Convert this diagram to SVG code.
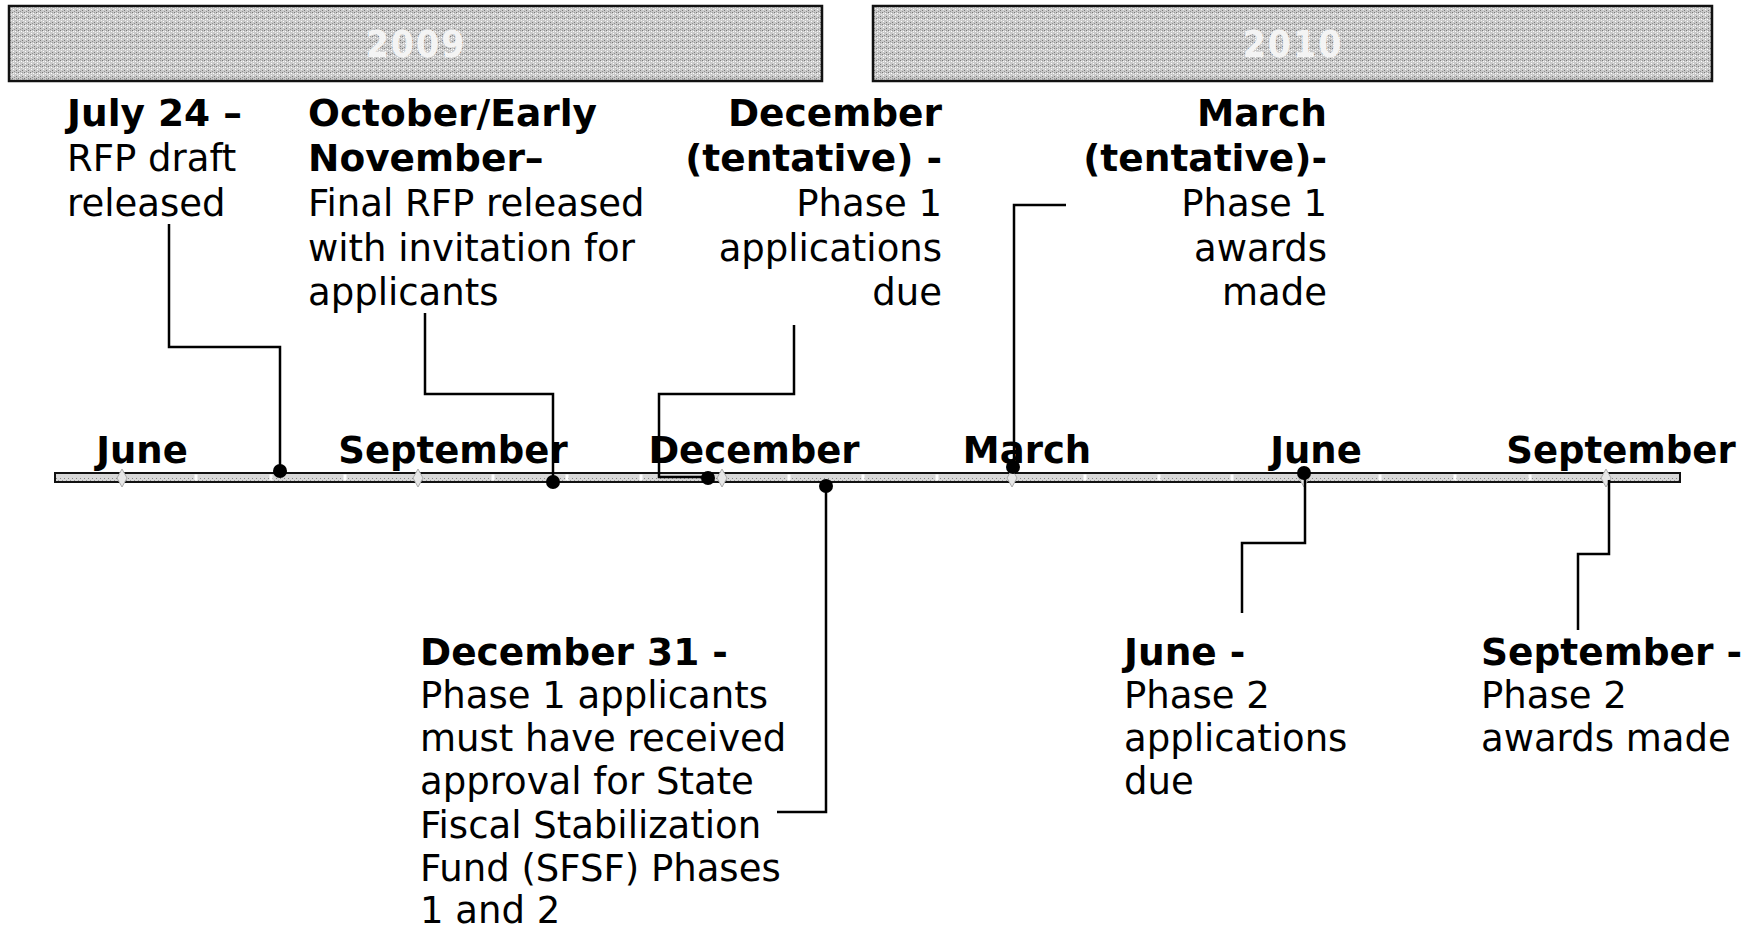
<svg xmlns="http://www.w3.org/2000/svg" width="1755" height="933" viewBox="0 0 1755 933">
<style>
.t{font-family:"DejaVu Sans","Liberation Sans",sans-serif;font-size:37px;fill:#000}
.b{font-weight:bold;font-size:37.5px}
.m{font-family:"DejaVu Sans","Liberation Sans",sans-serif;font-size:37px;font-weight:bold;fill:#000;text-anchor:middle}
.r{text-anchor:end}
.yr{font-family:"DejaVu Sans Condensed","DejaVu Sans","Liberation Sans",sans-serif;font-size:37px;font-weight:bold;fill:#f4f4f4;letter-spacing:2px;text-anchor:middle}
.hdr{fill:url(#dither);stroke:#111;stroke-width:2.5}
.con{fill:none;stroke:#000;stroke-width:2.5}
.dot{fill:#000}
.mk{fill:#e6e6e6;stroke:#aaa;stroke-width:1}
</style>
<defs>
<pattern id="dither" width="6" height="6" patternUnits="userSpaceOnUse">
<rect width="6" height="6" fill="#c9c9c9"/>
<rect x="0" y="0" width="1" height="1" fill="#7a7a7a"/>
<rect x="3" y="1" width="1" height="1" fill="#fff"/>
<rect x="1" y="3" width="1" height="1" fill="#fff"/>
<rect x="4" y="4" width="1" height="1" fill="#7a7a7a"/>
<rect x="2" y="5" width="1" height="1" fill="#909090"/>
<rect x="5" y="2" width="1" height="1" fill="#eee"/>
<rect x="4" y="0" width="1" height="1" fill="#999"/>
<rect x="1" y="1" width="1" height="1" fill="#f4f4f4"/>
</pattern>
<pattern id="bartex" width="4" height="7" patternUnits="userSpaceOnUse">
<rect width="4" height="7" fill="#d8d8d8"/>
<rect x="0" y="2" width="1" height="1" fill="#888"/>
<rect x="2" y="4" width="1" height="1" fill="#999"/>
</pattern>
</defs>

<g id="header-2009">
<rect class="hdr" x="9" y="6" width="813" height="75"/>
<text class="yr" x="416" y="57">2009</text>
</g>
<g id="header-2010">
<rect class="hdr" x="873" y="6" width="839" height="75"/>
<text class="yr" x="1293" y="57">2010</text>
</g>

<g id="axis">
<rect x="55" y="473" width="1625" height="9" fill="url(#bartex)" stroke="#111" stroke-width="2"/>
<g stroke="#fff" stroke-width="3">
<line x1="196" y1="474.5" x2="196" y2="480.5"/><line x1="271" y1="474.5" x2="271" y2="480.5"/>
<line x1="345" y1="474.5" x2="345" y2="480.5"/><line x1="493" y1="474.5" x2="493" y2="480.5"/>
<line x1="567" y1="474.5" x2="567" y2="480.5"/><line x1="641" y1="474.5" x2="641" y2="480.5"/>
<line x1="789" y1="474.5" x2="789" y2="480.5"/><line x1="863" y1="474.5" x2="863" y2="480.5"/>
<line x1="937" y1="474.5" x2="937" y2="480.5"/><line x1="1085" y1="474.5" x2="1085" y2="480.5"/>
<line x1="1159" y1="474.5" x2="1159" y2="480.5"/><line x1="1232" y1="474.5" x2="1232" y2="480.5"/>
<line x1="1380" y1="474.5" x2="1380" y2="480.5"/><line x1="1455" y1="474.5" x2="1455" y2="480.5"/>
<line x1="1530" y1="474.5" x2="1530" y2="480.5"/>
</g>
<polygon class="mk" points="122,469 127,478 122,487 117,478"/>
<polygon class="mk" points="418,469 423,478 418,487 413,478"/>
<polygon class="mk" points="722,469 727,478 722,487 717,478"/>
<polygon class="mk" points="1012,469 1017,478 1012,487 1007,478"/>
<polygon class="mk" points="1304,469 1309,478 1304,487 1299,478"/>
<polygon class="mk" points="1606,469 1611,478 1606,487 1601,478"/>
<text class="m" x="142" y="463">June</text>
<text class="m" x="453" y="463">September</text>
<text class="m" x="754" y="463">December</text>
<text class="m" x="1027" y="463">March</text>
<text class="m" x="1316" y="463">June</text>
<text class="m" x="1621" y="463">September</text>
</g>

<g id="connectors">
<path class="con" d="M169,224 V347 H280 V471"/>
<path class="con" d="M425,313 V394 H553 V482"/>
<path class="con" d="M794,325 V394 H659 V477 H708"/>
<path class="con" d="M826,486 V812 H777"/>
<path class="con" d="M1014,467 V205 H1066"/>
<path class="con" d="M1305,473 V543 H1242 V613"/>
<path class="con" d="M1609,480 V554 H1578 V630"/>
<circle class="dot" cx="280" cy="471" r="7"/>
<circle class="dot" cx="553" cy="482" r="7"/>
<circle class="dot" cx="708" cy="478" r="7"/>
<circle class="dot" cx="826" cy="486" r="7"/>
<circle class="dot" cx="1013" cy="467" r="7"/>
<circle class="dot" cx="1304" cy="473" r="7"/>
</g>

<g id="n-july24">
<text class="t b" x="67" y="126">July 24 –</text>
<text class="t" x="67" y="171">RFP draft</text>
<text class="t" x="67" y="216">released</text>
</g>
<g id="n-october">
<text class="t b" x="308" y="126">October/Early</text>
<text class="t b" x="308" y="171">November–</text>
<text class="t" x="308" y="216">Final RFP released</text>
<text class="t" x="308" y="261">with invitation for</text>
<text class="t" x="308" y="305">applicants</text>
</g>
<g id="n-december">
<text class="t b r" x="942" y="126">December</text>
<text class="t b r" x="942" y="171">(tentative) -</text>
<text class="t r" x="942" y="216">Phase 1</text>
<text class="t r" x="942" y="261">applications</text>
<text class="t r" x="942" y="305">due</text>
</g>
<g id="n-march">
<text class="t b r" x="1327" y="126">March</text>
<text class="t b r" x="1327" y="171">(tentative)-</text>
<text class="t r" x="1327" y="216">Phase 1</text>
<text class="t r" x="1327" y="261">awards</text>
<text class="t r" x="1327" y="305">made</text>
</g>
<g id="n-dec31">
<text class="t b" x="420" y="665">December 31 -</text>
<text class="t" x="420" y="708">Phase 1 applicants</text>
<text class="t" x="420" y="751">must have received</text>
<text class="t" x="420" y="794">approval for State</text>
<text class="t" x="420" y="838">Fiscal Stabilization</text>
<text class="t" x="420" y="881">Fund (SFSF) Phases</text>
<text class="t" x="420" y="923">1 and 2</text>
</g>
<g id="n-june">
<text class="t b" x="1124" y="665">June -</text>
<text class="t" x="1124" y="708">Phase 2</text>
<text class="t" x="1124" y="751">applications</text>
<text class="t" x="1124" y="794">due</text>
</g>
<g id="n-september">
<text class="t b" x="1481" y="665">September -</text>
<text class="t" x="1481" y="708">Phase 2</text>
<text class="t" x="1481" y="751">awards made</text>
</g>
</svg>
